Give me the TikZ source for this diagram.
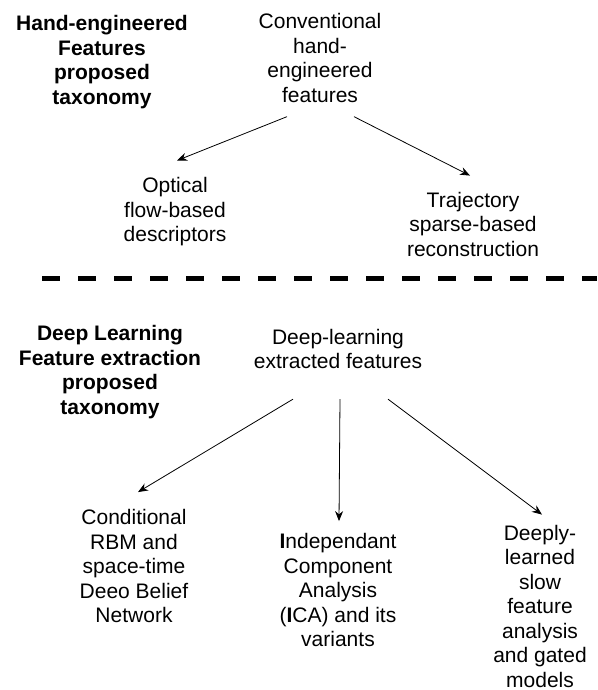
\documentclass[tikz,border=0pt]{standalone}
\usepackage{fontspec}
\setmainfont{Liberation Sans}
\usepackage{tikz}
\usetikzlibrary{arrows.meta,calc}

\tikzset{
	lbl/.style={align=center, inner sep=0pt, font=\fontsize{21}{24.5}\selectfont},
	ttl/.style={lbl, font=\fontsize{21}{24.5}\selectfont\bfseries},
	arr/.style={-{Stealth[length=10pt,width=8pt]}, line width=0.8pt},
	divider/.style={line width=5pt, dash pattern=on 18pt off 18pt}
}

\begin{document}
\begin{tikzpicture}[x=1pt,y=-1pt]
				\useasboundingbox (0,0) rectangle (597,690);
				
				% upper half
				\node[ttl] (handttl) at (102,62) {Hand-engineered\\Features\\proposed\\taxonomy};
				\node[lbl] (conv) at (320,58) {Conventional\\hand-\\engineered\\features};
				\node[lbl] (optical) at (175,212) {Optical\\flow-based\\descriptors};
				\node[lbl] (traj) at (473,224) {Trajectory\\sparse-based\\reconstruction};
				
				% divider
				\coordinate (dl) at (42,278);
				\coordinate (dr) at (597,278);
				\draw[divider] (dl) -- (dr);
				
				% lower half
				\node[ttl] (deepttl) at (110,372) {Deep Learning\\Feature extraction\\proposed\\taxonomy};
				\node[lbl] (deep) at (338,349) {Deep-learning\\extracted features};
				\node[lbl] (crbm) at (134,566) {Conditional\\RBM and\\space-time\\Deeo Belief\\Network};
				\node[lbl] (ica) at (338,590) {\textbf{I}ndependant\\Component\\Analysis\\(\textbf{I}CA) and its\\variants};
				\node[lbl] (slow) at (540,606) {Deeply-\\learned\\slow\\feature\\analysis\\and gated\\models};
				
				% arrows: from/to/start offset/end offset
				\foreach \a/\b/\sx/\sy/\tx/\ty in
				{conv/optical/-33/14/2/-17, conv/traj/34/14/-3/-16,
				 deep/crbm/-45/30/4/-17, deep/ica/2/30/1/-12, deep/slow/50/30/2/-10}{
					\draw[arr] ($(\a.south)+(\sx,\sy)$) -- ($(\b.north)+(\tx,\ty)$);
				}
\end{tikzpicture}
\end{document}
